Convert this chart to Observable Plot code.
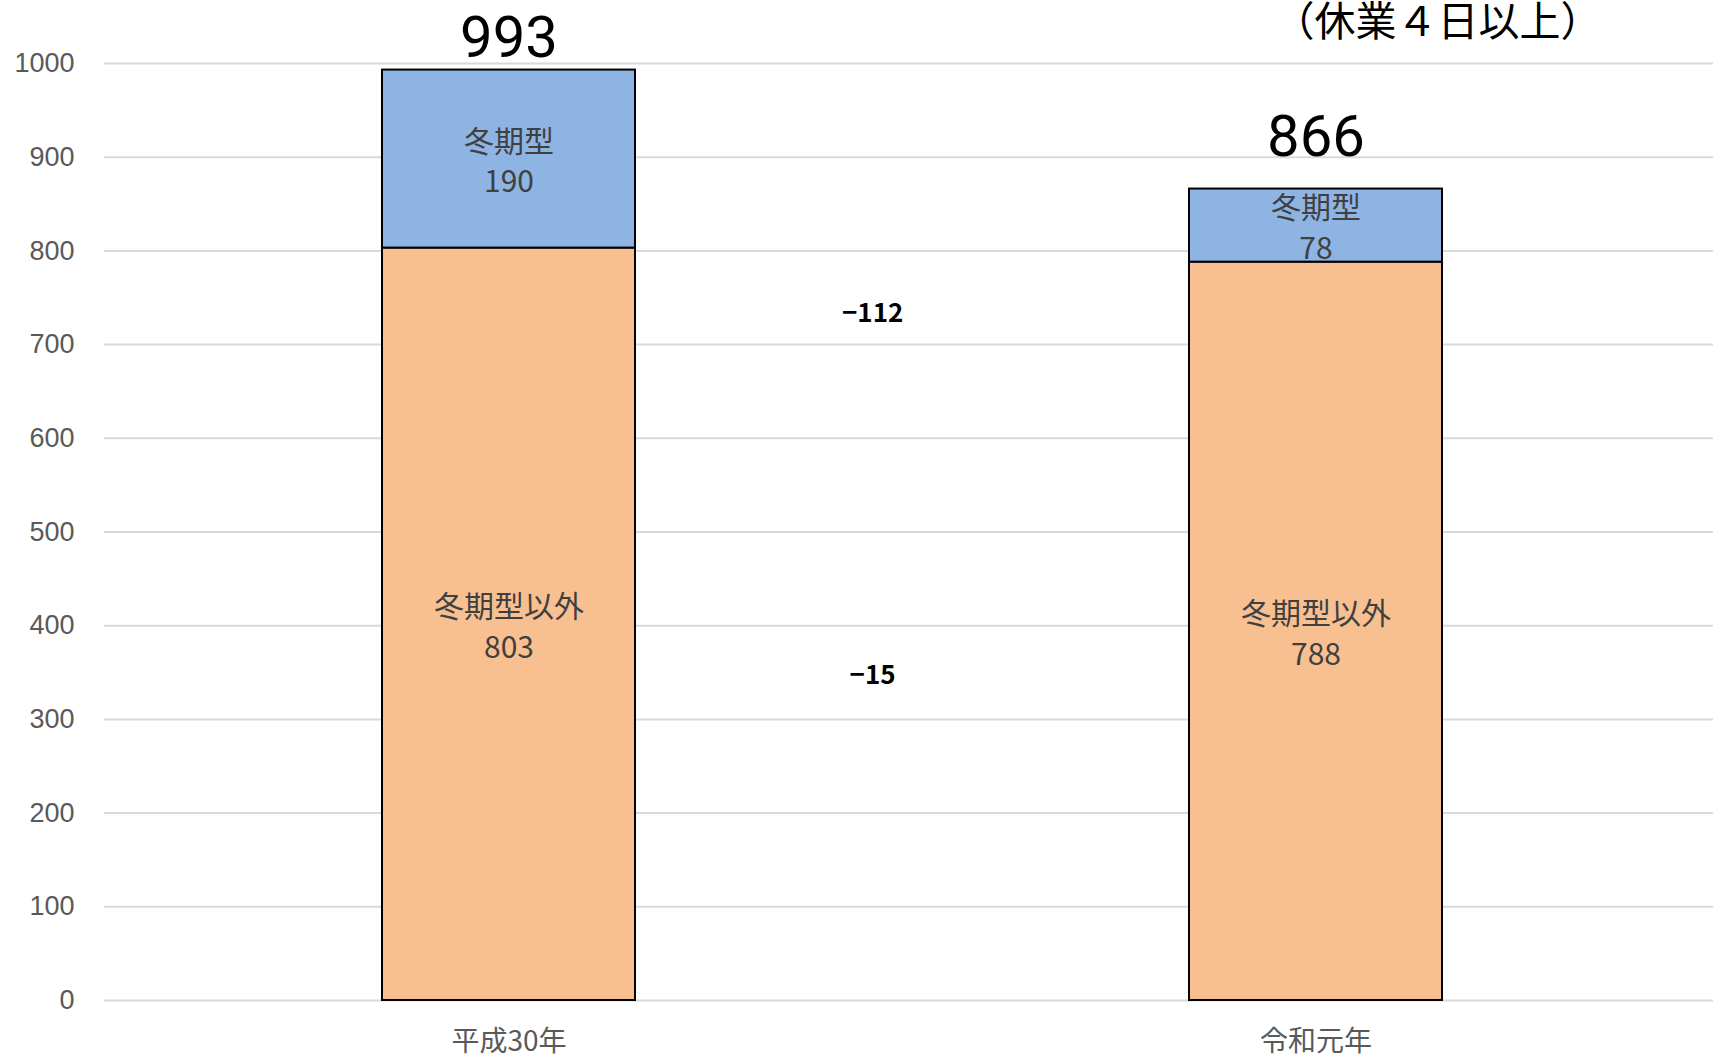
<!DOCTYPE html>
<html><head><meta charset="utf-8">
<script src="https://cdn.jsdelivr.net/npm/d3@7"></script>
<script src="https://cdn.jsdelivr.net/npm/@observablehq/plot@0.6"></script>
<style>
html,body{margin:0;padding:0;background:#fff;}
#chart{position:relative;width:1713px;height:1057px;overflow:hidden;}
</style>
</head><body>
<div id="chart"></div>
<script>
const years = ["平成30年", "令和元年"];
const series = ["冬期型以外", "冬期型"];
const nonWinter = [803, 788];
const winter = [190, 78];
const totals = [993, 866];
const diffLabels = ["−15", "−112"];
const diffY = [347, 733];
const yTicks = [0,100,200,300,400,500,600,700,800,900,1000];
const title = "（休業４日以上）";

const rows = [];
years.forEach((yr, i) => {
  rows.push({year: yr, series: series[0], value: nonWinter[i]});
  rows.push({year: yr, series: series[1], value: winter[i]});
});
const totalRows = years.map((yr, i) => ({year: yr, total: totals[i]}));
const diffRows = diffLabels.map((t, i) => ({label: t, y: diffY[i], year: years[0]}));

const W = 1713, H = 1057, mL = 104, mR = 0, mT = 63, mB = 57;
const padIn = 0.686, padOut = 0.3356, inL = 6.4;
const step = (W - mL - mR - inL) / (years.length - padIn + 2 * padOut);
const jp = "'Noto Sans CJK JP', 'Noto Sans', sans-serif";
const totalDy = [-32, -52];

const plot = Plot.plot({
  width: W, height: H,
  marginLeft: mL, marginRight: mR, marginTop: mT, marginBottom: mB,
  style: {background: "#fff", overflow: "visible"},
  x: {domain: years, paddingInner: padIn, paddingOuter: padOut, insetLeft: inL, label: null},
  y: {domain: [0, 1000], label: null},
  color: {domain: series, range: ["#F8C090", "#8EB4E3"]},
  marks: [
    Plot.gridY(yTicks, {stroke: "#d9d9d9", strokeOpacity: 1, strokeWidth: 2}),
    Plot.axisY(yTicks, {tickSize: 0, tickPadding: 30, fontSize: 27, fill: "#595959", tickFormat: d => String(d),
      fontFamily: "'Liberation Sans Narrow', 'Liberation Sans', sans-serif", label: null}),
    Plot.axisX({tickSize: 0, tickPadding: 31, fontSize: 28, fill: "#595959", fontFamily: jp, label: null}),
    Plot.barY(rows, Plot.stackY({x: "year", y: "value", fill: "series", stroke: "#000", strokeWidth: 2, order: series})),
    Plot.text(rows, Plot.stackY({x: "year", y: "value", z: "series", order: series,
      text: d => d.series + "\n" + d.value, fontSize: 30, fill: "#404040", fontFamily: jp, lineHeight: 1.35})),
    ...totalRows.map((r, i) => Plot.text([r], {x: "year", y: "total", text: d => String(d.total), dy: totalDy[i], fontSize: 58,
      fill: "#000", fontFamily: "'Liberation Sans Narrow', 'Roboto', sans-serif"})),
    Plot.text(diffRows, {x: "year", y: "y", text: "label", dx: step / 2 - 40, fontSize: 26, fontWeight: "bold",
      fill: "#000", fontFamily: "'Noto Sans CJK JP', sans-serif"}),
    Plot.text([title], {frameAnchor: "top-right", text: d => d, dx: -276, dy: -57, fontSize: 41,
      fill: "#000", fontFamily: jp, textAnchor: "middle"})
  ]
});
document.getElementById("chart").appendChild(plot);
</script>
</body></html>
